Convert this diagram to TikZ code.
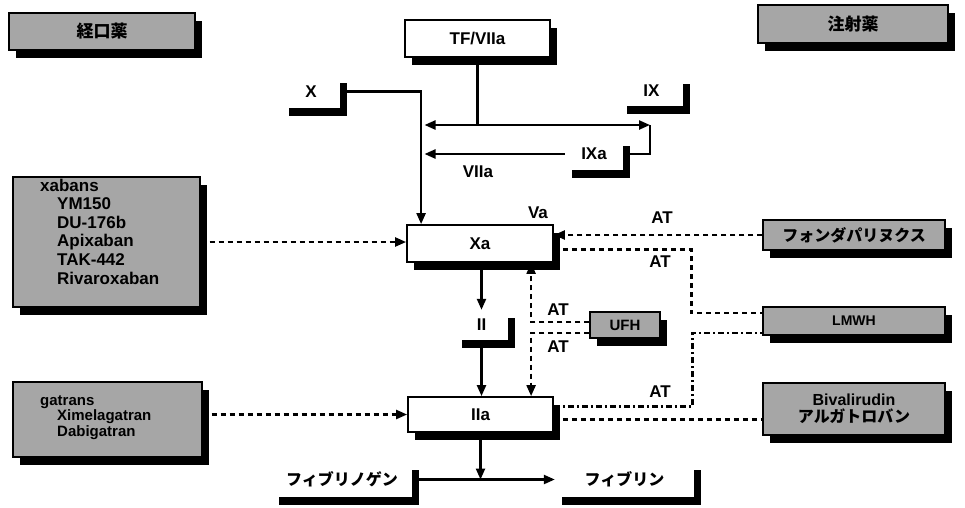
\documentclass[tikz,border=0pt]{standalone}
\usepackage{fontspec}
\setmainfont{Liberation Sans}
\newfontfamily\jp{Noto Sans CJK JP}
\usetikzlibrary{arrows.meta,shadows,calc}
\begin{document}
\begin{tikzpicture}[x=1pt,y=-1pt,
  every node/.style={font=\bfseries\fontsize{17}{20}\selectfont, inner sep=0pt},
  sh/.style={drop shadow={shadow xshift=7pt,shadow yshift=-8pt,fill=black,opacity=1}},
  gbox/.style={draw=black, line width=1.2pt, fill=black!35, sh},
  wbox/.style={draw=black, line width=1.8pt, fill=white, sh},
  lab/.style={fill=white, sh},
  ln/.style={line width=2.3pt},
  tip/.tip={Triangle[length=11pt,width=9pt]},
  arr/.style={ln,-tip},
  dsh/.style={ln,dash pattern=on 5pt off 4pt},
  dd/.style={ln,dash pattern=on 6pt off 3pt on 2pt off 3pt}
]
\useasboundingbox (0,0) rectangle (965,507);

% boxes
\node[gbox,minimum width=186pt,minimum height=37pt] (oral) at (102,31.5) {\jp 経口薬};
\node[gbox,minimum width=190pt,minimum height=38pt] (inj) at (853,24) {\jp 注射薬};
\node[wbox,minimum width=145pt,minimum height=37pt] (TF) at (477.5,38.5) {TF/VIIa};
\node[lab,minimum width=58pt,minimum height=33pt] (X) at (311,91.5) {X};
\node[lab,minimum width=63pt,minimum height=30pt] (IX) at (651.5,91) {IX};
\node[lab,minimum width=58pt,minimum height=32pt] (IXa) at (594,154) {IXa};
\node[wbox,minimum width=146pt,minimum height=37pt] (Xa) at (480,243.5) {Xa};
\node[lab,minimum width=53pt,minimum height=30pt] (II) at (481.5,325) {II};
\node[wbox,minimum width=145pt,minimum height=35pt] (IIa) at (480.5,414.5) {IIa};
\node[lab,minimum width=140pt,minimum height=35pt] (Fg) at (342,479.5) {\jp\fontsize{16}{18}\selectfont フィブリノゲン};
\node[lab,minimum width=139pt,minimum height=35pt] (Fb) at (624.5,479.5) {\jp\fontsize{16}{18}\selectfont フィブリン};
\node[gbox,minimum width=70pt,minimum height=26pt,font=\bfseries\fontsize{15}{17}\selectfont] (UFH) at (625,325) {UFH};
\node[gbox,minimum width=182pt,minimum height=30pt] (Fd) at (854,235) {\jp\fontsize{16}{18}\selectfont フォンダパリヌクス};
\node[gbox,minimum width=182pt,minimum height=28pt,font=\bfseries\fontsize{14}{16}\selectfont] (LM) at (854,321) {LMWH};
\node[gbox,minimum width=182pt,minimum height=52pt,align=center,font=\bfseries\fontsize{16}{17}\selectfont] (Biv) at (854,409) {Bivalirudin\\{\jp アルガトロバン}};
\node[gbox,minimum width=187pt,minimum height=130pt] (xab) at (106.5,242) {};
\node[anchor=west,align=left,font=\bfseries\fontsize{17}{18.6}\selectfont] (xabt) at (40,231.5)
  {xabans\\\hspace*{17pt}YM150\\\hspace*{17pt}DU-176b\\\hspace*{17pt}Apixaban\\\hspace*{17pt}TAK-442\\\hspace*{17pt}Rivaroxaban};
\node[gbox,minimum width=189pt,minimum height=75pt] (gat) at (107.5,419.5) {};
\node[anchor=west,align=left,font=\bfseries\fontsize{15}{15.5}\selectfont] (gatt) at (40,417.5)
  {gatrans\\\hspace*{17pt}Ximelagatran\\\hspace*{17pt}Dabigatran};

% labels
\node (lVIIa) at (478,172) {VIIa};
\node (lVa) at (538,213) {Va};
\node (at1) at (662,218) {AT};
\node (at2) at (660,262) {AT};
\node (at3) at (558,310) {AT};
\node (at4) at (558,347) {AT};
\node (at5) at (660,392) {AT};

% coordinates
\coordinate (h125) at (0,125);
\coordinate (tfj) at (TF.south |- h125);
\coordinate (ixin) at (650,125);
\coordinate (vl) at (424.5,125);
\coordinate (xtop) at ($(Xa.north west)+(15,0)$);
\coordinate (vx) at ($(Xa.south west)+(125,0)$);

% solid connectors
\draw[ln] (TF.south) -- (tfj);
\draw[ln,tip-tip] (vl) -- (ixin);
\draw[ln] (IXa.east) -| (ixin);
\draw[arr] (IXa.west) -- (IXa.west -| vl);
\draw[arr] (X.east) -| (xtop);
\draw[arr] (II.north |- Xa.south) -- (II.north);
\draw[arr] (II.south) -- (II.south |- IIa.north);
\draw[arr] (IIa.south) -- (IIa.south |- Fb.west);
\draw[arr] (Fg.east) -- (Fb.west);

% dashed connectors
\draw[dsh,arr] ($(UFH.west)+(0,-3)$) -| (vx);
\draw[dsh,arr] ($(UFH.west)+(0,8)$) -| (vx |- IIa.north);
\draw[dsh,arr] (Fd.west) -- (Fd.west -| Xa.east);
\draw[dsh] ($(Xa.east)+(0,6)$) -| ($(LM.west)+(-71,-8)$) -- ($(LM.west)+(0,-8)$);
\draw[dd] ($(IIa.east)+(0,-8)$) -| ($(LM.west)+(-70,12)$) -- ($(LM.west)+(0,12)$);
\coordinate (iib) at ($(IIa.east)+(0,5)$);
\draw[dsh] (iib) -- (iib -| Biv.west);
\draw[dsh,arr] (xab.east) -- (xab.east -| Xa.west);
\draw[dsh,arr] (gat.east |- IIa.west) -- (IIa.west);
\end{tikzpicture}
\end{document}
